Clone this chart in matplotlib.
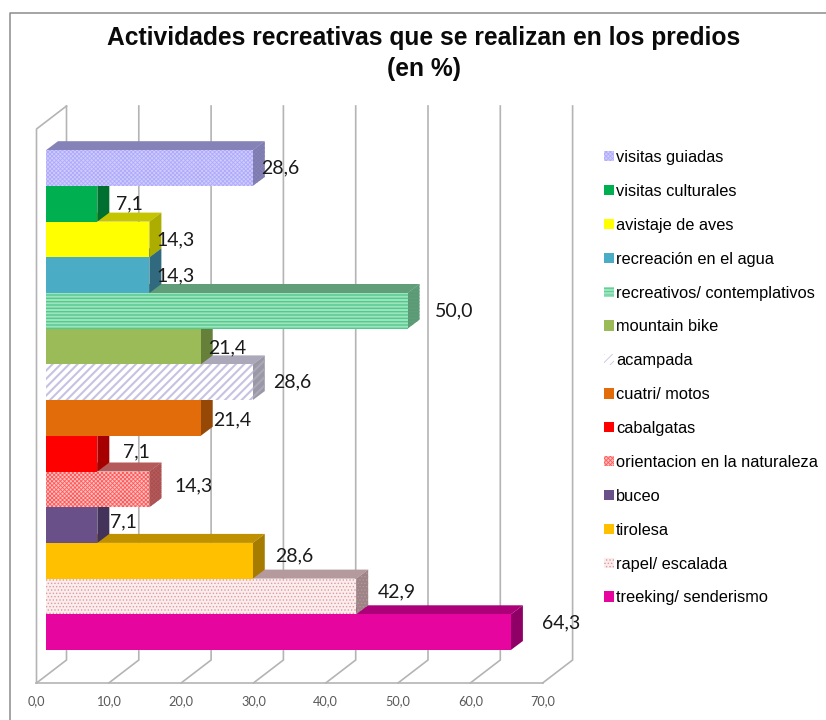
import matplotlib
matplotlib.use('Agg')
from matplotlib import pyplot as plt
from matplotlib.lines import Line2D
from matplotlib.patches import Patch

# bottom bar first
activities = ['treeking/ senderismo', 'rapel/ escalada', 'tirolesa', 'buceo',
              'orientacion en la naturaleza', 'cabalgatas', 'cuatri/ motos',
              'acampada', 'mountain bike', 'recreativos/ contemplativos',
              'recreación en el agua', 'avistaje de aves',
              'visitas culturales', 'visitas guiadas']
percent = [64.3, 42.9, 28.6, 7.1, 14.3, 7.1, 21.4, 28.6, 21.4, 50.0, 14.3,
           14.3, 7.1, 28.6]
axis_ticks = [0, 10, 20, 30, 40, 50, 60, 70]

front_colors = ['#E6059E', '#FBEDEE', '#FFC000', '#6A5088', '#FFC0C0',
                '#FF0000', '#E36C0A', '#FFFFFF', '#9BBB59', '#9CE4BE',
                '#4BACC6', '#FFFF00', '#00B050', '#CFCCFF']
top_colors = ['#AC0078', '#B49A9C', '#BF9000', '#503C66', '#B45A5A',
              '#BF0000', '#AA5108', '#ABA8BA', '#748C43', '#5F9E78',
              '#38819A', '#C4C400', '#008A3C', '#8582B8']
side_colors = ['#8E0066', '#9E8486', '#A67C00', '#43335A', '#A84E4E',
               '#A60000', '#964806', '#9A98A5', '#66803A', '#5A9A74',
               '#31697F', '#ADAD00', '#007030', '#7D7AAD']
hatches = [None, '.....', None, None, 'xxxxxxxx', None, None, '////', None,
           '-----', None, None, None, 'xxxxxxxx']
hatch_colors = [None, '#DE9A9A', None, None, '#FF5A5A', None, None, '#C8C2E2',
                None, '#55C88C', None, None, None, '#AFABFA']
hatch_widths = [0, 0.6, 0, 0, 0.6, 0, 0, 1.5, 0, 1.0, 0, 0, 0, 0.6]

# label nudges in pixels, from the bar end and the bar middle
label_dx = [50, 41, 41, 26, 44.6, 39, 31, 39, 26, 46.5, 26.6, 26.6, 32, 27]
label_dy = [9, 4.5, 5, 3, 3.6, 2, -2, 0, -1, 0, -0.5, 0, 0, 0.5]

PX_X = 7.23   # pixels per percent
PX_Y = 35.7   # pixels per bar
BAR_X0 = 46
BAR_Y0 = 650
DEPTH_X = 12 / PX_X
DEPTH_Y = 9 / PX_Y
WALL_X = -9.5 / PX_X
WALL_DX = 30 / PX_X
WALL_DY = 23 / PX_Y
FLOOR_Y = -33 / PX_Y
GRID_TOP = 544 / PX_Y
GRID_COLOR = '#B4B4B4'


def comma(value):
    return ('%.1f' % value).replace('.', ',')


fig = plt.figure(figsize=(8.26, 7.2), dpi=100)
ax = fig.add_axes([0, 0, 1, 1])
ax.set_xlim(-BAR_X0 / PX_X, (826 - BAR_X0) / PX_X)
ax.set_ylim(-(720 - BAR_Y0) / PX_Y, BAR_Y0 / PX_Y)
ax.axis('off')

fig.add_artist(Line2D([10 / 826, 10 / 826, 1], [0, 1 - 12.5 / 720, 1 - 12.5 / 720],
                      color='#8C8C8C', lw=1.1))

# walls and floor
for tick in axis_ticks:
    x = WALL_X + tick
    ax.plot([x, x + WALL_DX, x + WALL_DX],
            [FLOOR_Y, FLOOR_Y + WALL_DY, GRID_TOP],
            color=GRID_COLOR, lw=1.2, zorder=1, solid_joinstyle='miter')
    ax.text(x, FLOOR_Y - 18 / PX_Y, comma(tick), ha='center', va='center',
            fontsize=9.2, family='Lato', color='#595959')
ax.plot([WALL_X + axis_ticks[0], WALL_X + axis_ticks[-1]], [FLOOR_Y, FLOOR_Y],
        color=GRID_COLOR, lw=1.2, zorder=1)
ax.plot([WALL_X, WALL_X, WALL_X + WALL_DX],
        [FLOOR_Y, GRID_TOP - WALL_DY, GRID_TOP],
        color=GRID_COLOR, lw=1.2, zorder=1)

# lower bars first, the bar above always sits on top of them
handles = {}
for i, value in enumerate(percent):
    z = 2 + i
    plt.rcParams['hatch.linewidth'] = hatch_widths[i] or 0.6
    ax.fill([0, DEPTH_X, value + DEPTH_X, value],
            [i + 1, i + 1 + DEPTH_Y, i + 1 + DEPTH_Y, i + 1],
            facecolor=top_colors[i], lw=0, zorder=z)
    ax.fill([value, value + DEPTH_X, value + DEPTH_X, value],
            [i, i + DEPTH_Y, i + 1 + DEPTH_Y, i + 1],
            facecolor=side_colors[i], edgecolor=top_colors[i], lw=0,
            hatch=hatches[i], zorder=z)
    ax.barh(i, value, height=1, align='edge', color=front_colors[i], lw=0,
            hatch=hatches[i], edgecolor=hatch_colors[i] or front_colors[i], zorder=z)
    handles[i] = Patch(facecolor=front_colors[i], hatch=hatches[i], lw=0,
                       edgecolor=hatch_colors[i] or front_colors[i],
                       label=activities[i])

for i, value in enumerate(percent):
    ax.text(value + label_dx[i] / PX_X, i + 0.5 + label_dy[i] / PX_Y, comma(value),
            ha='center', va='center', fontsize=14, family='Lato', color='#1A1A1A',
            zorder=30)

ax.legend(handles=[handles[i] for i in reversed(range(len(activities)))],
          loc='upper left', frameon=False,
          bbox_to_anchor=(604 / 826, 1 - 150 / 720), borderaxespad=0, borderpad=0,
          handlelength=0.58, handleheight=0.6, handletextpad=0.16, labelspacing=1.152,
          prop={'family': 'Liberation Sans', 'size': 11.8})

fig.text(424 / 826, 1 - 38 / 720, 'Actividades recreativas que se realizan en los predios',
         ha='center', va='center', fontsize=17.75, fontweight='bold',
         family='Liberation Sans', color='#0A0A0A')
fig.text(424 / 826, 1 - 69 / 720, '(en %)', ha='center', va='center', fontsize=17.75,
         fontweight='bold', family='Liberation Sans', color='#0A0A0A')

fig.savefig('out.png', dpi=100)
